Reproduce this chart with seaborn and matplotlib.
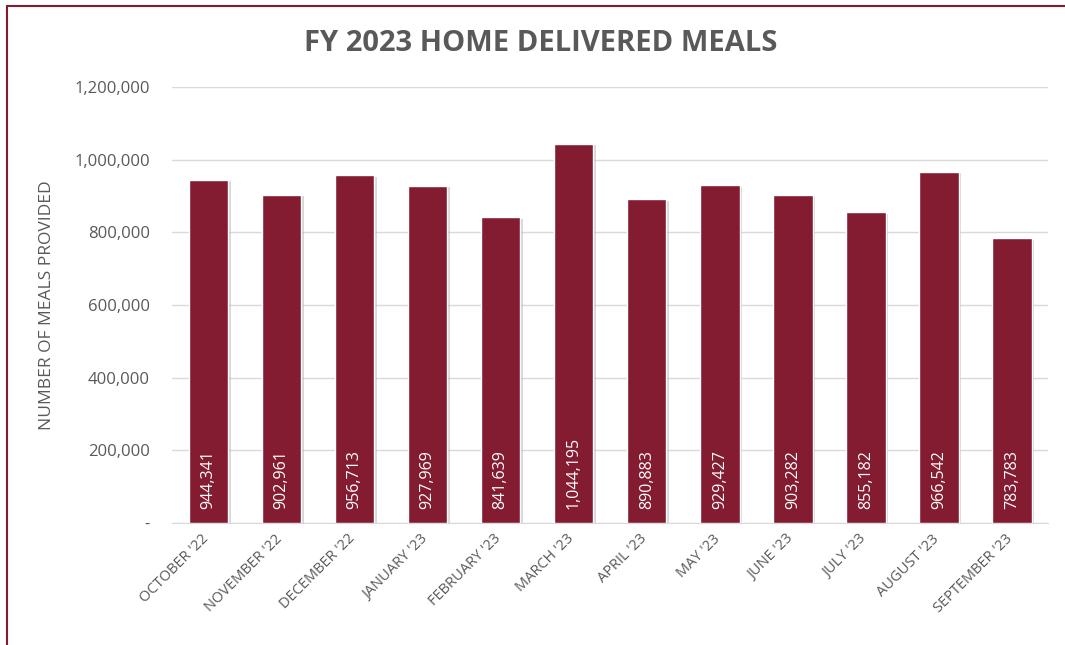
import matplotlib
matplotlib.use("Agg")
import matplotlib.pyplot as plt
import seaborn as sns
import pandas as pd
from matplotlib.ticker import FuncFormatter
from matplotlib.lines import Line2D
from matplotlib.transforms import ScaledTranslation
import matplotlib.patheffects as pe

# Dados
months = ["OCTOBER '22", "NOVEMBER '22", "DECEMBER '22", "JANUARY '23", "FEBRUARY '23",
          "MARCH '23", "APRIL '23", "MAY '23", "JUNE '23", "JULY '23", "AUGUST '23",
          "SEPTEMBER '23"]
meals = [944341, 902961, 956713, 927969, 841639, 1044195, 890883, 929427,
         903282, 855182, 966542, 783783]
y_ticks = [0, 200000, 400000, 600000, 800000, 1000000, 1200000]

df = pd.DataFrame({"month": months, "meals": meals})

sns.set_style("white")
plt.rcParams['font.family'] = ['Open Sans', 'DejaVu Sans']

bar_color = "#841C31"
text_gray = "#595959"
grid_gray = "#D9D9D9"

fig = plt.figure(figsize=(10.65, 6.45), dpi=100)
ax = fig.add_axes([0.1615, 0.189, 0.823, 0.676])

sns.barplot(data=df, x="month", y="meals", color=bar_color, width=0.54,
            saturation=1, ax=ax, zorder=3)

# Sombra leve nas barras
for p in ax.patches:
    p.set_path_effects([pe.SimplePatchShadow(offset=(2, -1), shadow_rgbFace="#B0B0B0", alpha=0.5),
                        pe.Normal()])

ax.set_ylim(0, 1200000)
ax.set_xlim(-0.5, len(months) - 0.5)
ax.set_yticks(y_ticks)
ax.yaxis.set_major_formatter(FuncFormatter(lambda v, p: "-" if v == 0 else f"{int(v):,}"))
ax.grid(axis="y", color=grid_gray, linewidth=1, zorder=0)
for s in ["top", "right", "left"]:
    ax.spines[s].set_visible(False)
ax.spines["bottom"].set_color(grid_gray)
ax.tick_params(axis="y", length=0, pad=16, labelsize=12, labelcolor=text_gray)
ax.tick_params(axis="x", length=0, pad=6, labelsize=10.5, labelcolor=text_gray)
offset = ScaledTranslation(-7 / 100, 0, fig.dpi_scale_trans)
for lbl in ax.get_xticklabels():
    lbl.set_rotation(45)
    lbl.set_ha("right")
    lbl.set_rotation_mode("anchor")
    lbl.set_transform(lbl.get_transform() + offset)

# Rótulos dentro das barras
for i, v in enumerate(meals):
    ax.text(i, 38000, f"{v:,}", rotation=90, ha="center", va="bottom",
            color="white", fontsize=11.5, zorder=4)

ax.set_xlabel("")
ax.set_ylabel("NUMBER OF MEALS PROVIDED", fontsize=12.5, color=text_gray, labelpad=14)

fig.text(0.508, 0.932, "FY 2023 HOME DELIVERED MEALS", ha="center", va="center",
         fontsize=21, fontweight="bold", color=text_gray)

# Borda
fig.add_artist(Line2D([0.0066, 0.0066], [0, 0.9907], transform=fig.transFigure,
                      color=bar_color, linewidth=1.5))
fig.add_artist(Line2D([0.0066, 1.0], [0.9907, 0.9907], transform=fig.transFigure,
                      color=bar_color, linewidth=1.5))

fig.savefig("out.png", dpi=100)
